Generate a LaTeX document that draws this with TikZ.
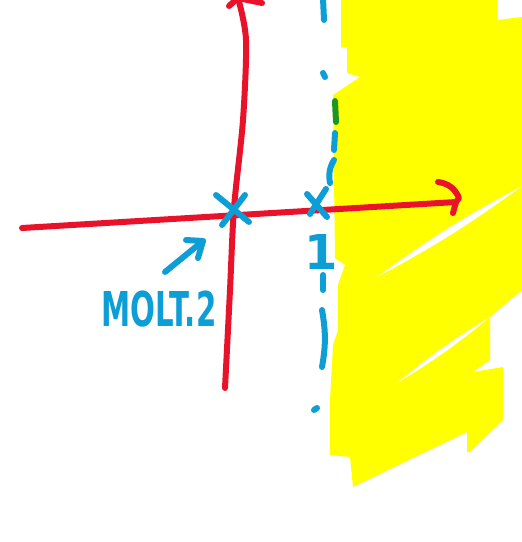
\documentclass[tikz,border=0pt]{standalone}
\usepackage{fontspec}
\setsansfont{DejaVu Sans}
\usepackage{xcolor}
\usepackage{tikz}
\usetikzlibrary{arrows.meta,positioning}

\definecolor{penred}{RGB}{232,18,42}
\definecolor{penblue}{RGB}{14,158,214}
\definecolor{pengreen}{RGB}{30,150,30}
\definecolor{hilite}{RGB}{255,255,0}

\begin{document}
\begin{tikzpicture}[x=0.5pt, y=-0.5pt,
      axis/.style={penred, line width=3pt, line cap=round, line join=round},
      pen/.style={penblue, line width=3pt, line cap=round, line join=round},
      lbl/.style={penblue, inner sep=0pt, font=\sffamily\bfseries\fontsize{24}{24}\selectfont}]
    \useasboundingbox (0,0) rectangle (522,542);
    % half-plane right of the line Re = 1
    \fill[hilite] (341,0) -- (497,0) -- (497,20) -- (522,17) -- (522,290)
      -- (490,317) -- (490,360) -- (473,372) -- (503,367) -- (503,420)
      -- (470,452) -- (467,452) -- (467,432) -- (353,487) -- (350,457)
      -- (330,455) -- (330,400) -- (333,345) -- (338,330) -- (338,285)
      -- (345,265) -- (335,258) -- (333,95) -- (360,77) -- (347,73)
      -- (347,47) -- (341,47) -- cycle;
    \fill[white] (377,277) to[bend left=4] (522,186) to[bend left=4] (377,277);
    \fill[white] (397,383) to[bend left=4] (490,317) to[bend left=4] (397,383);
    % axes
    \coordinate (xl) at (22,228);
    \coordinate (xr) at (456,202);
    \coordinate (yb) at (225,388);
    \coordinate (yt) at (238,-2);
    \draw[axis] (xl) -- (xr);
    \draw[axis] (xr) -- (459,198) to[bend right=30] (438,182);
    \draw[axis] (xr) -- (453,213);
    \draw[axis] plot[smooth] coordinates {(225,388) (230,290) (234,208) (243,120) (246,40) (238,-2)};
    \draw[axis] (yt) -- (229,6);
    \draw[axis] (yt) -- (262,3);
    % line Re = 1, dash-dot by hand
    \draw[pen] (323,-2) -- (324,20);
    \draw[pen] (323,73) -- (325,77);
    \draw[pengreen, line width=3pt, line cap=round] (335,101) -- (336,122);
    \draw[pen] (335,133) -- (334,150);
    \draw[pen] (334,160) to[bend right=20] (330,183);
    \draw[pen] (323,275) -- (323,290);
    \draw[pen] (322,310) to[bend left=10] (322,367);
    \draw[pen] (314,410) -- (317,408);
    % zeros
    \node[inner sep=0pt] (z0) at (232,208) {};
    \node[inner sep=0pt] (z1) at (317,204) {};
    \draw[pen] (216,195) -- (249,222);
    \draw[pen] (245,195) -- (222,225);
    \draw[pen] (307,194) -- (327,217);
    \draw[pen] (326,189) -- (310,214);
    % labels
    \node[lbl] (one) at (321,252) {1};
    \node[lbl, xscale=0.61] (mult) at (159,309) {MOLT.2};
    \coordinate (tail) at (165,272);
    \coordinate (head) at (203,241);
    \draw[pen] (tail) -- (head);
    \draw[pen] (186,240) -- (head) -- (198,258);
\end{tikzpicture}
\end{document}
